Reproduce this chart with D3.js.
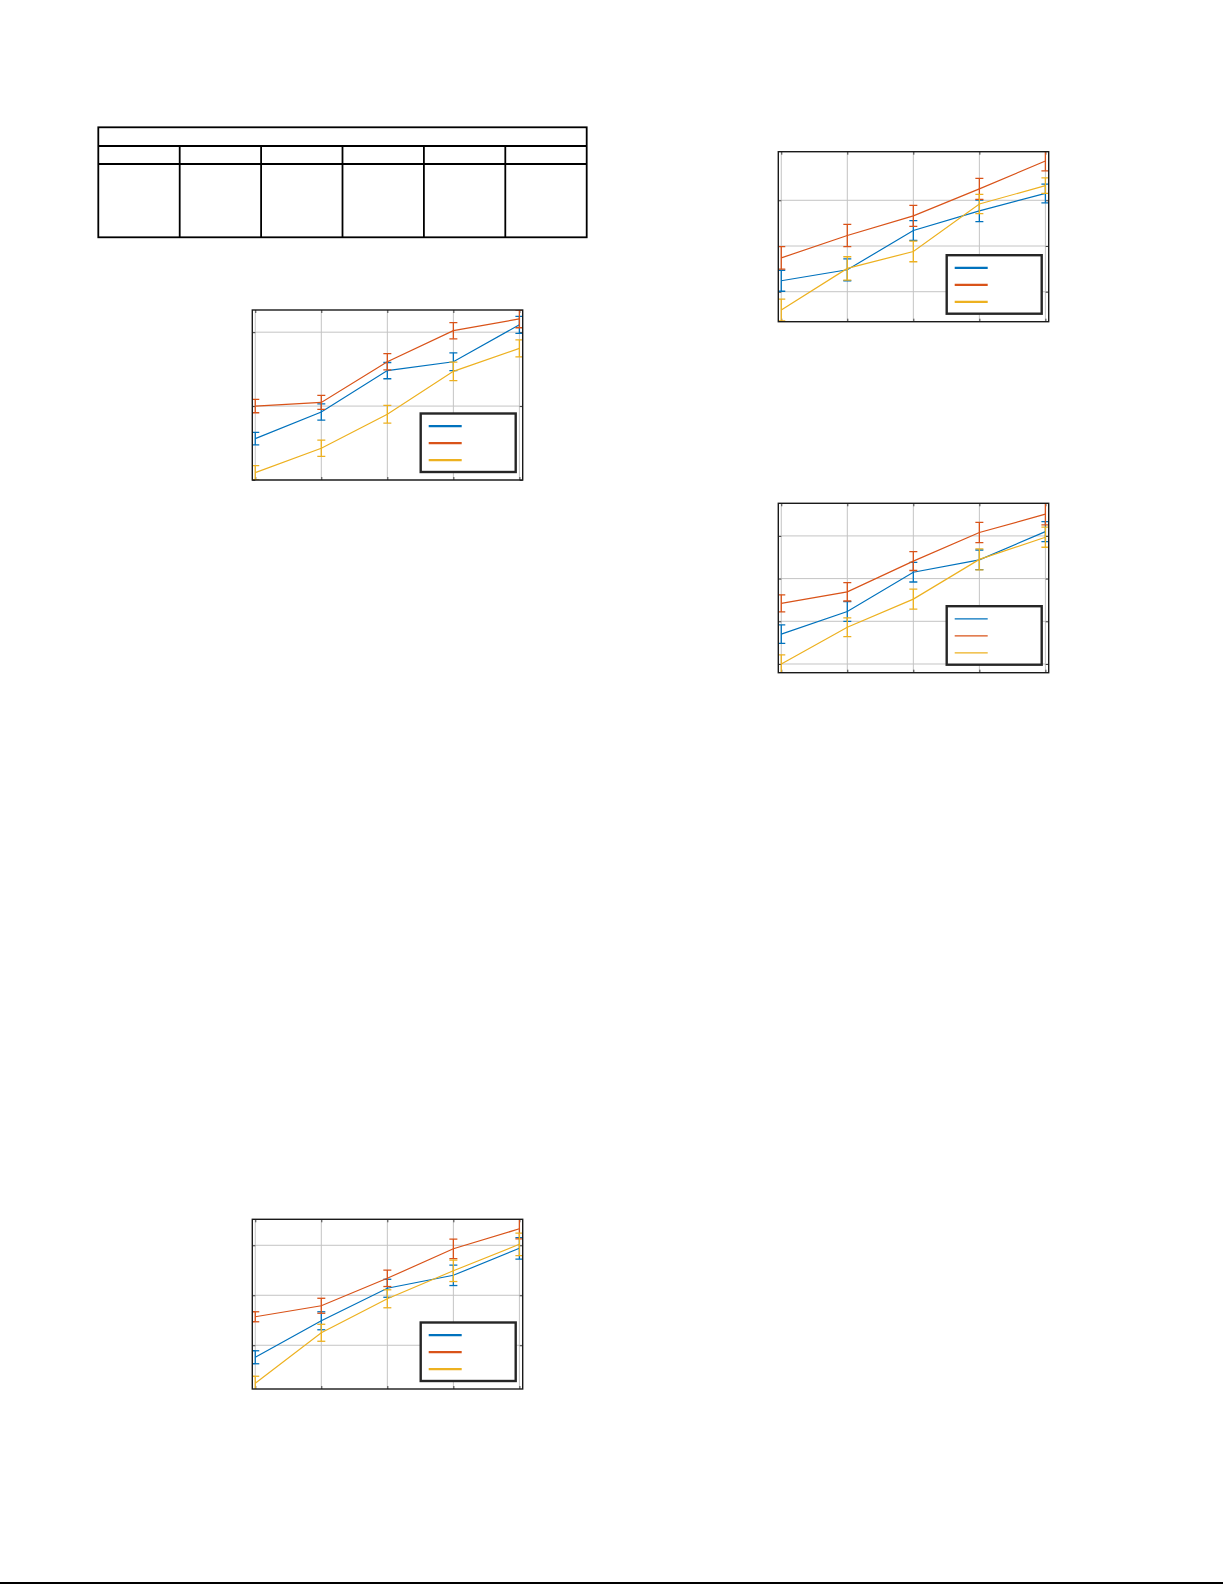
<!DOCTYPE html>
<html>
<head>
<meta charset="utf-8">
<script src="https://cdn.jsdelivr.net/npm/d3@7"></script>
<style>
html,body{margin:0;padding:0;background:#fff;}
svg{display:block;}
</style>
</head>
<body>
<svg id="page" width="1225" height="1585"></svg>
<script>
// ---------------- DATA ----------------
const xCategories = [1, 2, 3, 4, 5];
const seriesNames = ["Series 1", "Series 2", "Series 3"];
const seriesColors = ["#0072BD", "#D95319", "#EDB120"];

// Panel A (top-left)
const panelA_s1 = [0.56, 0.92, 1.48, 1.60, 2.10];
const panelA_s1Err = [0.085, 0.11, 0.11, 0.12, 0.115];
const panelA_s2 = [1.00, 1.05, 1.60, 2.02, 2.18];
const panelA_s2Err = [0.09, 0.095, 0.11, 0.11, 0.12];
const panelA_s3 = [0.10, 0.43, 0.89, 1.47, 1.78];
const panelA_s3Err = [0.095, 0.11, 0.12, 0.125, 0.115];
const panelA_yLim = [0, 2.3];
const panelA_yTicks = [0, 1, 2];

// Panel B (bottom-left)
const panelB_s1 = [0.76, 1.49, 2.14, 2.40, 2.94];
const panelB_s1Err = [0.13, 0.18, 0.18, 0.205, 0.215];
const panelB_s2 = [1.57, 1.79, 2.34, 2.93, 3.33];
const panelB_s2Err = [0.10, 0.15, 0.165, 0.195, 0.20];
const panelB_s3 = [0.24, 1.25, 1.93, 2.49, 3.02];
const panelB_s3Err = [0.14, 0.17, 0.18, 0.215, 0.225];
const panelB_yLim = [0.125, 3.52];
const panelB_yTicks = [1, 2, 3];

// Panel C (top-right)
const panelC_s1 = [1.24, 1.48, 2.34, 2.77, 3.15];
const panelC_s1Err = [0.23, 0.24, 0.215, 0.235, 0.205];
const panelC_s2 = [1.74, 2.23, 2.66, 3.25, 3.86];
const panelC_s2Err = [0.245, 0.245, 0.23, 0.23, 0.215];
const panelC_s3 = [0.60, 1.51, 1.88, 2.92, 3.32];
const panelC_s3Err = [0.24, 0.255, 0.225, 0.21, 0.17];
const panelC_yLim = [0.344, 4.063];
const panelC_yTicks = [1, 2, 3];

// Panel D (middle-right)
const panelD_s1 = [1.70, 2.23, 3.15, 3.44, 4.10];
const panelD_s1Err = [0.215, 0.23, 0.23, 0.23, 0.235];
const panelD_s2 = [2.42, 2.69, 3.41, 4.08, 4.51];
const panelD_s2Err = [0.20, 0.215, 0.22, 0.235, 0.25];
const panelD_s3 = [1.00, 1.86, 2.52, 3.45, 3.97];
const panelD_s3Err = [0.215, 0.22, 0.235, 0.245, 0.235];
const panelD_yLim = [0.796, 4.764];
const panelD_yTicks = [1, 2, 3, 4];

const xLim = [0.955, 5.05];
const tableColumns = ["", "", "", "", "", ""];

// ---------------- DRAWING ----------------
const svg = d3.select("#page");

function drawPanel(id, box, means, errs, yLim, yTicks, legendLineWidth) {
  const x = d3.scaleLinear().domain(xLim).range([box.x0, box.x1]);
  const y = d3.scaleLinear().domain(yLim).range([box.y1, box.y0]);
  const g = svg.append("g");

  g.append("clipPath").attr("id", "clip" + id)
    .append("rect").attr("x", box.x0).attr("y", box.y0)
    .attr("width", box.x1 - box.x0).attr("height", box.y1 - box.y0);

  // grid
  const grid = g.append("g");
  grid.selectAll("line.vx").data(xCategories).join("line")
    .attr("x1", d => x(d)).attr("x2", d => x(d))
    .attr("y1", box.y0).attr("y2", box.y1)
    .attr("stroke", "#c4c4c4").attr("stroke-width", 1);
  grid.selectAll("line.hy").data(yTicks).join("line")
    .attr("x1", box.x0).attr("x2", box.x1)
    .attr("y1", d => y(d)).attr("y2", d => y(d))
    .attr("stroke", "#c4c4c4").attr("stroke-width", 1);

  // axes tick marks (inside, all four sides) via d3 axes
  const tl = 3;
  const axB = d3.axisBottom(x).tickValues(xCategories).tickSize(-tl).tickFormat("");
  const axT = d3.axisTop(x).tickValues(xCategories).tickSize(-tl).tickFormat("");
  const axL = d3.axisLeft(y).tickValues(yTicks).tickSize(-tl).tickFormat("");
  const axR = d3.axisRight(y).tickValues(yTicks).tickSize(-tl).tickFormat("");
  [[axB, `translate(0,${box.y1})`], [axT, `translate(0,${box.y0})`],
   [axL, `translate(${box.x0},0)`], [axR, `translate(${box.x1},0)`]].forEach(([ax, tr]) => {
    const a = g.append("g").attr("transform", tr).call(ax);
    a.select(".domain").remove();
    a.selectAll("line").attr("stroke", "#404040").attr("stroke-width", 1);
  });

  // data
  const dg = g.append("g").attr("clip-path", `url(#clip${id})`);
  means.forEach((m, si) => {
    const color = seriesColors[si];
    const pts = xCategories.map((c, i) => ({ c, v: m[i], e: errs[si][i] }));
    const line = d3.line().x(d => x(d.c)).y(d => y(d.v));
    dg.append("path").datum(pts).attr("d", line)
      .attr("fill", "none").attr("stroke", color).attr("stroke-width", 1.2);
    const eb = dg.append("g").attr("stroke", color).attr("stroke-width", 1.3);
    eb.selectAll("line.v").data(pts).join("line")
      .attr("x1", d => x(d.c)).attr("x2", d => x(d.c))
      .attr("y1", d => y(d.v - d.e)).attr("y2", d => y(d.v + d.e));
    eb.selectAll("line.t").data(pts).join("line")
      .attr("x1", d => x(d.c) - 4).attr("x2", d => x(d.c) + 4)
      .attr("y1", d => y(d.v + d.e)).attr("y2", d => y(d.v + d.e));
    eb.selectAll("line.b").data(pts).join("line")
      .attr("x1", d => x(d.c) - 4).attr("x2", d => x(d.c) + 4)
      .attr("y1", d => y(d.v - d.e)).attr("y2", d => y(d.v - d.e));
  });

  // box
  g.append("rect").attr("x", box.x0).attr("y", box.y0)
    .attr("width", box.x1 - box.x0).attr("height", box.y1 - box.y0)
    .attr("fill", "none").attr("stroke", "#1a1a1a").attr("stroke-width", 1.4);

  // legend
  const lx = box.x1 - 102, ly = box.y1 - 8 - 58.5;
  const lg = g.append("g");
  lg.append("rect").attr("x", lx).attr("y", ly).attr("width", 95).attr("height", 58.5)
    .attr("fill", "#fff").attr("stroke", "#262626").attr("stroke-width", 2.4);
  seriesNames.forEach((n, i) => {
    lg.append("line").attr("x1", lx + 8).attr("x2", lx + 41)
      .attr("y1", ly + 12.7 + i * 17).attr("y2", ly + 12.7 + i * 17)
      .attr("stroke", seriesColors[i]).attr("stroke-width", legendLineWidth);
  });
}

drawPanel("A", { x0: 252.3, x1: 522.7, y0: 310, y1: 480 },
  [panelA_s1, panelA_s2, panelA_s3], [panelA_s1Err, panelA_s2Err, panelA_s3Err],
  panelA_yLim, panelA_yTicks, 2.2);
drawPanel("B", { x0: 252.3, x1: 522.7, y0: 1219.3, y1: 1389 },
  [panelB_s1, panelB_s2, panelB_s3], [panelB_s1Err, panelB_s2Err, panelB_s3Err],
  panelB_yLim, panelB_yTicks, 2.2);
drawPanel("C", { x0: 778.3, x1: 1048.7, y0: 151.7, y1: 321.7 },
  [panelC_s1, panelC_s2, panelC_s3], [panelC_s1Err, panelC_s2Err, panelC_s3Err],
  panelC_yLim, panelC_yTicks, 2.2);
drawPanel("D", { x0: 778.3, x1: 1048.7, y0: 503.3, y1: 672.7 },
  [panelD_s1, panelD_s2, panelD_s3], [panelD_s1Err, panelD_s2Err, panelD_s3Err],
  panelD_yLim, panelD_yTicks, 1.3);

// table (empty cells)
const tb = { x0: 98.3, x1: 586.7, y0: 127.3, yHead: 146, yRow: 164, y1: 237.3 };
const tx = d3.scaleBand().domain(d3.range(tableColumns.length)).range([tb.x0, tb.x1]);
const tg = svg.append("g").attr("stroke", "#000").attr("stroke-width", 1.8).attr("fill", "none");
tg.append("rect").attr("x", tb.x0).attr("y", tb.y0).attr("width", tb.x1 - tb.x0).attr("height", tb.y1 - tb.y0);
[tb.yHead, tb.yRow].forEach(yy => tg.append("line").attr("x1", tb.x0).attr("x2", tb.x1).attr("y1", yy).attr("y2", yy));
tg.selectAll("line.c").data(d3.range(1, tableColumns.length)).join("line")
  .attr("x1", d => tx(d)).attr("x2", d => tx(d)).attr("y1", tb.yHead).attr("y2", tb.y1);

// bottom rule
svg.append("line").attr("x1", 0).attr("x2", 1223).attr("y1", 1583).attr("y2", 1583)
  .attr("stroke", "#000").attr("stroke-width", 2);
</script>
</body>
</html>
